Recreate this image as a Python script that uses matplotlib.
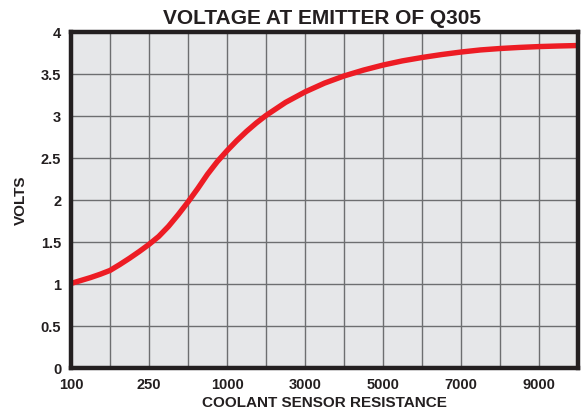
import matplotlib.pyplot as plt

# x is position along the (non-linear) resistance scale, one unit per gridline
grid_pos = list(range(14))
tick_text = ['100', '', '250', '', '1000', '', '3000', '', '5000', '', '7000', '', '9000', '']

# curve (finer steps where it bends most)
curve_pos = [0, 0.5, 0.75, 1, 1.25, 1.5, 1.75, 2, 2.25, 2.5, 2.75, 3, 3.25, 3.5, 3.75,
             4, 4.25, 4.5, 4.75, 5, 5.5, 6, 6.5, 7, 7.5, 8, 8.5, 9, 9.5,
             10, 10.5, 11, 11.5, 12, 12.5, 12.95]
volts = [1.01, 1.08, 1.12, 1.165, 1.235, 1.31, 1.39, 1.475, 1.57, 1.69, 1.83, 1.98, 2.14, 2.31,
         2.46, 2.59, 2.71, 2.82, 2.92, 3.01, 3.165, 3.29, 3.395, 3.48, 3.55, 3.61, 3.66, 3.70,
         3.735, 3.765, 3.79, 3.807, 3.82, 3.83, 3.837, 3.842]

y_ticks = [0, 0.5, 1, 1.5, 2, 2.5, 3, 3.5, 4]
y_text = ['0', '0.5', '1', '1.5', '2', '2.5', '3', '3.5', '4']

plt.rcParams['font.family'] = ['Liberation Sans', 'DejaVu Sans']
plt.rcParams['font.weight'] = 'bold'

W, H = 583, 415
fig = plt.figure(figsize=(W / 100, H / 100), dpi=100)
ax = fig.add_axes([71 / W, 1 - 368.3 / H, (578 - 71) / W, (368.3 - 32.3) / H])
ax.set_facecolor('#e6e7e9')

ax.plot(curve_pos, volts, color='#ed1c24', lw=3.9, solid_capstyle='butt',
        solid_joinstyle='round', zorder=3)

ax.set_xlim(0, 12.95)
ax.set_ylim(0, 4)
ax.set_xticks(grid_pos)
ax.set_xticklabels(tick_text)
ax.set_yticks(y_ticks)
ax.set_yticklabels(y_text)
ax.tick_params(length=0, labelsize=10.5, colors='#231f20')
ax.tick_params(axis='x', pad=7)
ax.tick_params(axis='y', pad=7)
for lab in ax.get_xticklabels() + ax.get_yticklabels():
    lab.set_fontweight('bold')

ax.grid(True, color='#6d6e70', lw=1.0)
ax.set_axisbelow(True)

for s in ax.spines.values():
    s.set_linewidth(3.2)
    s.set_color('#231f20')
    s.set_zorder(4)

fig.text(322 / W, 1 - 18.8 / H, 'VOLTAGE AT EMITTER OF Q305', ha='center', va='center',
         fontsize=15, fontweight='bold', color='#231f20')
fig.text(324 / W, 1 - 403 / H, 'COOLANT SENSOR RESISTANCE', ha='center', va='center',
         fontsize=11, fontweight='bold', color='#231f20')
fig.text(21 / W, 1 - 200 / H, 'VOLTS', ha='center', va='center', rotation=90,
         fontsize=11, fontweight='bold', color='#231f20')

fig.savefig('out.png', dpi=100)
